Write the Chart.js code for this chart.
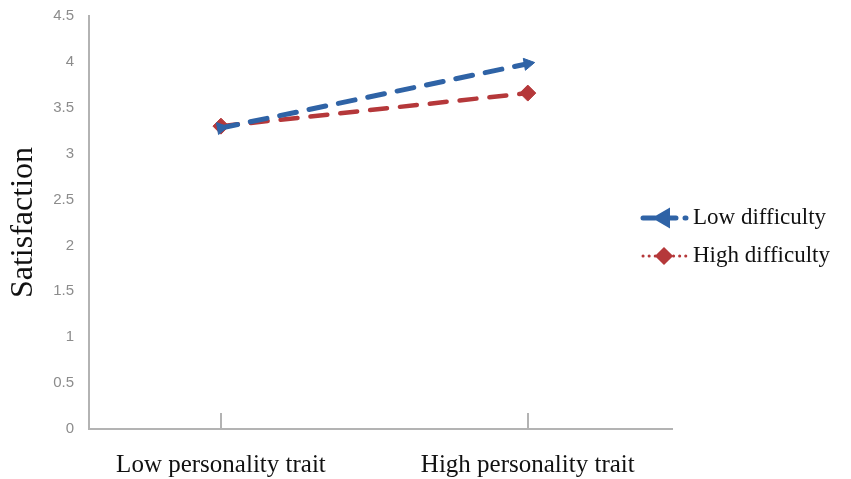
<!DOCTYPE html>
<html>
<head>
<meta charset="utf-8">
<script src="https://cdn.jsdelivr.net/npm/chart.js@4.4.0/dist/chart.umd.min.js"></script>
<style>
    html, body { margin: 0; padding: 0; background: #fff; }
    #wrap { width: 851px; height: 479px; position: relative; }
</style>
</head>
<body>
<div id="wrap"><canvas id="satChart"></canvas></div>
<script>
// values
var categories = ['Low personality trait', 'High personality trait'];
var lowDifficulty = [3.28, 3.98];
var highDifficulty = [3.30, 3.66];
var seriesNames = ['Low difficulty', 'High difficulty'];
var yTicks = [0, 0.5, 1, 1.5, 2, 2.5, 3, 3.5, 4, 4.5];

var BLUE = '#2f63a6';
var RED = '#b5383a';
var AXIS = '#b3b3b3';
var SERIF = "'Liberation Serif', 'Times New Roman', serif";
var SANS = "'Liberation Sans', Arial, sans-serif";

function toPoints(values) {
    return values.map(function (v, i) { return { x: i, y: v }; });
}

// short tick marks pointing up from the x axis
var innerTicks = {
    id: 'innerTicks',
    afterDatasetsDraw: function (chart) {
        var ctx = chart.ctx;
        var xs = chart.scales.x;
        var bottom = chart.chartArea.bottom;
        ctx.save();
        ctx.strokeStyle = AXIS;
        ctx.lineWidth = 2;
        xs.ticks.forEach(function (t) {
            var px = Math.round(xs.getPixelForValue(t.value));
            ctx.beginPath();
            ctx.moveTo(px, bottom);
            ctx.lineTo(px, bottom - 16);
            ctx.stroke();
        });
        ctx.restore();
    }
};

// legend sits over the right edge of the plot, drawn by hand
var sideLegend = {
    id: 'sideLegend',
    afterDraw: function (chart) {
        var ctx = chart.ctx;
        var x0 = chart.chartArea.right - 32;
        var y0 = 218;
        ctx.save();
        chart.data.datasets.forEach(function (ds, i) {
            var y = y0 + i * 38;
            ctx.strokeStyle = ds.borderColor;
            ctx.lineCap = 'round';
            if (i === 0) {
                ctx.lineWidth = 5;
                ctx.setLineDash([12, 9]);
            } else {
                ctx.lineWidth = 3;
                ctx.setLineDash([0.1, 6]);
            }
            ctx.beginPath();
            ctx.moveTo(x0 + 3, y);
            ctx.lineTo(x0 + 46, y);
            ctx.stroke();
            ctx.setLineDash([]);
            Chart.helpers.drawPoint(ctx, {
                pointStyle: i === 0 ? 'triangle' : 'rectRot',
                radius: 7,
                rotation: i === 0 ? -90 : 0,
                borderWidth: 1
            }, x0 + 24, y);
            ctx.fillStyle = ds.borderColor;
            ctx.fill();
            ctx.fillStyle = '#111';
            ctx.font = '23px ' + SERIF;
            ctx.textBaseline = 'middle';
            ctx.textAlign = 'left';
            ctx.fillText(ds.label, x0 + 53, y);
        });
        ctx.restore();
    }
};

var ctx = document.getElementById('satChart').getContext('2d');
new Chart(ctx, {
    type: 'line',
    data: {
        datasets: [
            {
                label: seriesNames[0],
                data: toPoints(lowDifficulty),
                borderColor: BLUE,
                backgroundColor: BLUE,
                borderWidth: 5,
                borderDash: [17, 13],
                borderCapStyle: 'round',
                pointStyle: 'triangle',
                pointRotation: 80,
                pointRadius: 7,
                pointBorderWidth: 1,
                fill: false
            },
            {
                label: seriesNames[1],
                data: toPoints(highDifficulty),
                borderColor: RED,
                backgroundColor: RED,
                borderWidth: 4.5,
                borderDash: [17, 13],
                borderCapStyle: 'round',
                pointStyle: 'rectRot',
                pointRadius: 8,
                pointBorderWidth: 1,
                fill: false
            }
        ]
    },
    options: {
        responsive: true,
        maintainAspectRatio: false,
        animation: false,
        layout: { padding: { left: 0, right: 179, top: 4, bottom: 0 } },
        plugins: {
            legend: { display: false },
            tooltip: { enabled: false }
        },
        scales: {
            x: {
                type: 'linear',
                min: -0.43,
                max: 1.47,
                grid: { display: false },
                border: { display: true, color: AXIS, width: 2 },
                afterBuildTicks: function (scale) {
                    scale.ticks = categories.map(function (c, i) { return { value: i }; });
                },
                afterFit: function (scale) { scale.height = 50; },
                ticks: {
                    padding: 13,
                    color: '#111',
                    font: { family: SERIF, size: 25 },
                    maxRotation: 0,
                    autoSkip: false,
                    callback: function (v) { return categories[v]; }
                }
            },
            y: {
                min: 0,
                max: 4.5,
                grid: { display: false },
                border: { display: true, color: AXIS, width: 2 },
                afterBuildTicks: function (scale) {
                    scale.ticks = yTicks.map(function (v) { return { value: v }; });
                },
                afterFit: function (scale) { scale.width = 89; },
                ticks: {
                    padding: 7,
                    color: '#8c8c8c',
                    font: { family: SANS, size: 15 },
                    callback: function (v) { return String(v); }
                },
                title: {
                    display: true,
                    text: 'Satisfaction',
                    color: '#111',
                    padding: { top: 4, bottom: 0 },
                    font: { family: SERIF, size: 32 }
                }
            }
        }
    },
    plugins: [innerTicks, sideLegend]
});
</script>
</body>
</html>
